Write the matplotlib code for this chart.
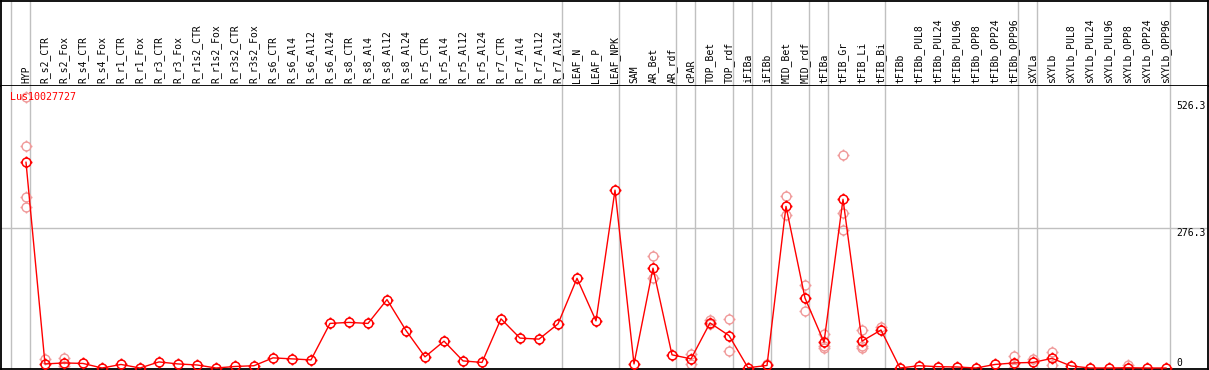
import numpy as np
import matplotlib
matplotlib.use("Agg")
import matplotlib.pyplot as plt
from matplotlib.path import Path

labels = ["HYP", "R_s2_CTR", "R_s2_Fox", "R_s4_CTR", "R_s4_Fox", "R_r1_CTR", "R_r1_Fox",
          "R_r3_CTR", "R_r3_Fox", "R_r1s2_CTR", "R_r1s2_Fox", "R_r3s2_CTR", "R_r3s2_Fox",
          "R_s6_CTR", "R_s6_Al4", "R_s6_Al12", "R_s6_Al24", "R_s8_CTR", "R_s8_Al4",
          "R_s8_Al12", "R_s8_Al24", "R_r5_CTR", "R_r5_Al4", "R_r5_Al12", "R_r5_Al24",
          "R_r7_CTR", "R_r7_Al4", "R_r7_Al12", "R_r7_Al24", "LEAF_N", "LEAF_P", "LEAF_NPK",
          "SAM", "AR_Bet", "AR_rdf", "cPAR", "TOP_Bet", "TOP_rdf", "iFIBa", "iFIBb",
          "MID_Bet", "MID_rdf", "tFIBa", "tFIB_Gr", "tFIB_Li", "tFIB_Bi", "tFIBb",
          "tFIBb_PUL8", "tFIBb_PUL24", "tFIBb_PUL96", "tFIBb_OPP8", "tFIBb_OPP24",
          "tFIBb_OPP96", "sXYLa", "sXYLb", "sXYLb_PUL8", "sXYLb_PUL24", "sXYLb_PUL96",
          "sXYLb_OPP8", "sXYLb_OPP24", "sXYLb_OPP96"]

means = [406, 8, 10, 9, 0, 7, 0, 12, 8, 6, 0, 3, 4.5, 20, 18,
         16, 88, 90, 88, 135, 74, 22, 53, 14, 11, 97, 59, 57, 87, 177, 93,
         351, 8, 197, 26, 18, 89, 64, 0.5, 5,
         319, 138, 51, 333, 53, 75, 0,
         4.5, 2.6, 2, 0, 7, 10,
         11, 19, 4, 0, 0, 0.5, 0, 0]

# individual replicates (label, value)
rep_labels = ["HYP", "HYP", "HYP", "HYP", "R_s2_CTR", "R_s2_Fox", "R_s2_Fox",
              "AR_Bet", "AR_Bet", "cPAR", "cPAR", "TOP_Bet", "TOP_Bet", "TOP_rdf", "TOP_rdf",
              "iFIBb", "MID_Bet", "MID_Bet", "MID_rdf", "MID_rdf",
              "tFIBa", "tFIBa", "tFIBa", "tFIB_Gr", "tFIB_Gr", "tFIB_Gr",
              "tFIB_Li", "tFIB_Li", "tFIB_Li", "tFIB_Bi", "tFIBb_OPP96", "tFIBb_OPP96",
              "sXYLa", "sXYLb", "sXYLb", "sXYLb_OPP8"]
rep_values = [534, 439, 337, 317, 18, 20, 4,
              221, 177, 28, 8, 94, 86, 97, 33,
              8, 339, 301, 163, 112,
              68, 39, 44, 420, 305, 273,
              75, 43, 39, 81, 24, 0,
              18, 31, 6, 6]

# gray separators after these columns
sep_after = ["HYP", "R_r7_Al24", "LEAF_NPK", "AR_rdf", "cPAR", "TOP_rdf", "iFIBa",
             "iFIBb", "MID_rdf", "tFIBa", "tFIB_Bi", "tFIBb_OPP96", "sXYLa", "sXYLb_OPP96"]

y_ticks = [526.3, 276.3, 0]
gene = "Lus10027727"

W, H = 1209, 370
fig = plt.figure(figsize=(W / 100, H / 100), dpi=100)

# pixel -> column mapping
x0, dx = 26, 19
def px2col(p):
    return (p - x0) / dx

left_px, right_px, head_px, bot_px = 1, 1207.5, 86, 369
xlim = (px2col(left_px), px2col(right_px))
scale = 0.5067  # px per unit
ylim = ((368 - bot_px) / scale, (368 - head_px) / scale)

ax_h = fig.add_axes([left_px / W, (H - head_px) / H, (right_px - left_px) / W, (head_px - 0.5) / H])
ax = fig.add_axes([left_px / W, (H - bot_px) / H, (right_px - left_px) / W, (bot_px - head_px) / H])

mono = "DejaVu Sans Mono"
idx = {lab: i for i, lab in enumerate(labels)}
x = np.arange(len(labels))

# marker: circle with four small ticks
circ = Path.unit_circle()
ticks = Path([(0, 1), (0, 1.35), (0, -1), (0, -1.35), (1, 0), (1.35, 0), (-1, 0), (-1.35, 0)],
             [Path.MOVETO, Path.LINETO] * 4)
gear = Path.make_compound_path(circ, ticks)

for a in (ax, ax_h):
    a.set_xlim(*xlim)
    for lab in sep_after + ["__left"]:
        pos = (idx[lab] if lab in idx else -1) + 0.22
        a.axvline(pos, color="#c0c0c0", lw=1.0, zorder=0)
    a.set_xticks([])
    a.set_yticks([])
    for s in a.spines.values():
        s.set_color("black")
        s.set_linewidth(1.3)

ax_h.set_ylim(head_px, 0)
for i, lab in enumerate(labels):
    ax_h.text(i, 82.5, lab, rotation=90, ha="center", va="bottom",
              fontsize=7, family=mono, color="black")

ax.set_ylim(*ylim)
ax.spines["top"].set_visible(False)
ax.axhline(276.3, color="#c0c0c0", lw=1.0, zorder=0)

rx = [idx[lab] for lab in rep_labels]
ax.plot(rx, rep_values, linestyle="none", marker=gear, markersize=8.6,
        markerfacecolor="none", markeredgecolor="#f09a9a", markeredgewidth=1.0, zorder=2)
ax.plot(x, means, color="red", lw=1.0, marker=gear, markersize=8.6,
        markerfacecolor="none", markeredgecolor="red", markeredgewidth=1.1, zorder=3)

tx = px2col(1176)
for v in y_ticks:
    ax.text(tx, v, f"{v:g}", ha="left", va="top" if v > 0 else "bottom",
            fontsize=7, family=mono, color="black", zorder=4)

ax.text(px2col(10), (368 - 97) / scale, gene, ha="left", va="center",
        fontsize=7.2, family=mono, color="red", zorder=5)

fig.savefig("out.png", dpi=100)
